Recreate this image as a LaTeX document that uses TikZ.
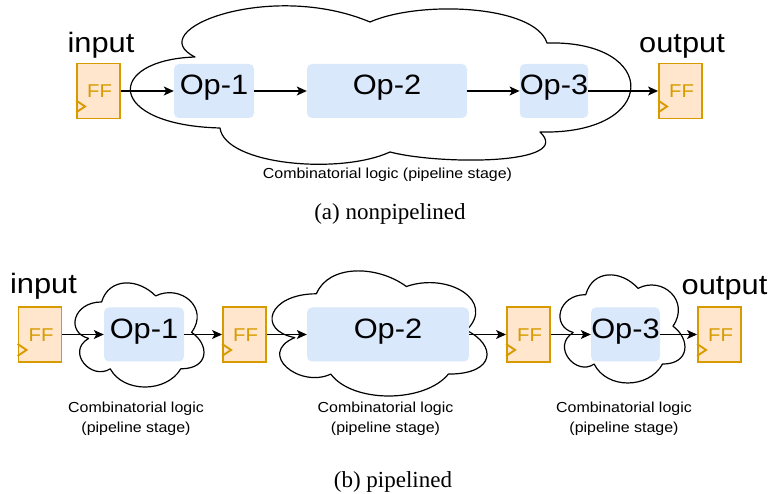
\documentclass[tikz,border=0pt]{standalone}
\usepackage{fontspec}
\usetikzlibrary{arrows.meta}
\newfontfamily\diagsans[FakeStretch=1.1]{Liberation Sans}
\newfontfamily\capserif{Liberation Serif}

\definecolor{ffline}{HTML}{D79B00}
\definecolor{fffill}{HTML}{FFE6CC}
\definecolor{opfill}{HTML}{DAE8FC}

\tikzset{
  ffbox/.style={draw=ffline, fill=fffill, line width=1.9pt, minimum width=43pt, minimum height=55pt, inner sep=0pt},
  fftext/.style={text=ffline, font=\diagsans\fontsize{18.5}{20}\selectfont, inner sep=0pt, text height=0.72em, text depth=0pt},
  ffclock/.style={draw=ffline, line width=1.9pt, line join=miter},
  opbox/.style={fill=opfill, rounded corners=5pt, minimum height=54pt, inner sep=0pt,
                font=\diagsans\fontsize{28}{32}\selectfont, text height=0.72em, text depth=0pt},
  iolabel/.style={font=\diagsans\fontsize{28}{32}\selectfont, inner sep=0pt, anchor=base},
  stagelabel/.style={font=\diagsans\fontsize{14.5}{20}\selectfont, align=center, inner sep=0pt},
  caption/.style={font=\capserif\fontsize{23}{26}\selectfont, inner sep=0pt, anchor=base},
  arr/.style={-{Stealth[length=10pt,width=9pt,inset=2.5pt]}, line width=1.2pt},
  cloudline/.style={draw=black, line width=1.2pt, line join=round},
  stagecloud/.pic={
    \draw[cloudline] (0.25,0.25) .. controls (0.05,0.25) and (0,0.5) .. (0.16,0.55)
      .. controls (0,0.66) and (0.18,0.9) .. (0.31,0.8)
      .. controls (0.4,1) and (0.7,1) .. (0.8,0.8)
      .. controls (1,0.8) and (1,0.6) .. (0.875,0.5)
      .. controls (1,0.3) and (0.8,0.1) .. (0.625,0.2)
      .. controls (0.5,0.05) and (0.3,0.05) .. (0.25,0.25) -- cycle;
  }
}

% flip-flop: box, label and clock mark
\newcommand\flipflop[2]{%
  \node[ffbox] (#1) at (#2) {};
  \node[fftext] (#1txt) at ([shift={(1,3)}]#1.center) {FF};
  \draw[ffclock] ([shift={(0,-19)}]#1.south west) -- ([shift={(9,-13)}]#1.south west) -- ([shift={(0,-7)}]#1.south west);
}

\begin{document}
\begin{tikzpicture}[x=1pt, y=-1pt]
\useasboundingbox[fill=white] (0,0) rectangle (769,494);

% ---------- (a) one combinational stage ----------
\draw[cloudline] (195,57) .. controls (140,30) and (270,-20) .. (370,22)
  .. controls (420,0) and (535,5) .. (547,43)
  .. controls (660,40) and (660,135) .. (540,132)
  .. controls (575,165) and (440,165) .. (390,152)
  .. controls (340,175) and (225,165) .. (220,128)
  .. controls (105,125) and (105,60) .. (195,57) -- cycle;

\flipflop{ffin}{98.5,91}
\flipflop{ffout}{680.5,91}
\node[iolabel] (inlabel) at (101,53) {input};
\node[iolabel] (outlabel) at (682,53) {output};

\node[opbox, minimum width=80pt] (op1) at (214,91) {Op-1};
\node[opbox, minimum width=160pt] (op2) at (387,91) {Op-2};
\node[opbox, minimum width=68pt] (op3) at (554,91) {Op-3};

\draw[arr] (ffin.east) -- (op1.west);
\draw[arr] (op1.east) -- (op2.west);
\draw[arr] (op2.east) -- (op3.west);
\draw[arr] (op3.east) -- (ffout.west);

\node[stagelabel] (stagea) at (387.5,175) {Combinatorial logic (pipeline stage)};
\node[caption] (capa) at (390,220) {(a) nonpipelined};

% ---------- (b) three pipeline stages ----------
\pic[xscale=144, yscale=121.5] at (65.6,271.6) {stagecloud};
\pic[xscale=240, yscale=146] at (256.4,257.3) {stagecloud};
\pic[xscale=139.5, yscale=126.2] at (550.9,263.1) {stagecloud};

\flipflop{pff1}{40,334.5}
\flipflop{pff2}{244.5,334.5}
\flipflop{pff3}{528.5,334.5}
\flipflop{pff4}{719.5,334.5}
\node[iolabel] (pinlabel) at (43.5,294) {input};
\node[iolabel] (poutlabel) at (724.5,295) {output};

\node[opbox, minimum width=80pt] (pop1) at (144,334.5) {Op-1};
\node[opbox, minimum width=162pt] (pop2) at (388,334.5) {Op-2};
\node[opbox, minimum width=69pt] (pop3) at (625.5,334.5) {Op-3};

\draw[arr] (pff1.east) -- (pop1.west);
\draw[arr] (pop1.east) -- (pff2.west);
\draw[arr] (pff2.east) -- (pop2.west);
\draw[arr] (pop2.east) -- (pff3.west);
\draw[arr] (pff3.east) -- (pop3.west);
\draw[arr] (pop3.east) -- (pff4.west);

\node[stagelabel] (stageb1) at (136,419) {Combinatorial logic\\(pipeline stage)};
\node[stagelabel] (stageb2) at (385.5,419) {Combinatorial logic\\(pipeline stage)};
\node[stagelabel] (stageb3) at (624,419) {Combinatorial logic\\(pipeline stage)};
\node[caption] (capb) at (393,487) {(b) pipelined};
\end{tikzpicture}
\end{document}
